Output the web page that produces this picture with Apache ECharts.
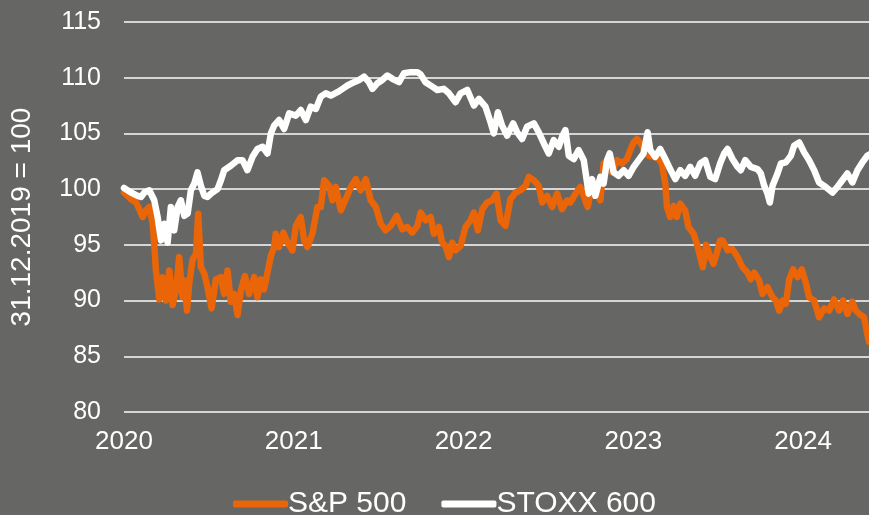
<!DOCTYPE html>
<html>
<head>
<meta charset="utf-8">
<script src="https://cdn.jsdelivr.net/npm/echarts@6/dist/echarts.min.js"></script>
<style>
  html, body { margin: 0; padding: 0; background: #666664; }
  #chart { width: 869px; height: 515px; }
</style>
</head>
<body>
<div id="chart"></div>
<script>
// x values are decimal years (2020.5 = mid 2020), y = index, 31.12.2019 = 100
const sp500 = [
  [2020.000, 99.7], [2020.041, 99.1], [2020.071, 98.8], [2020.090, 98.2], [2020.110, 97.5],
  [2020.129, 98.1], [2020.149, 98.4], [2020.169, 96.9], [2020.178, 95.1], [2020.188, 92.7],
  [2020.208, 90.1], [2020.227, 92.1], [2020.247, 90.0], [2020.267, 92.7], [2020.286, 89.6],
  [2020.306, 90.9], [2020.325, 93.9], [2020.345, 90.3], [2020.355, 91.8], [2020.371, 89.1],
  [2020.384, 91.5], [2020.404, 93.7], [2020.424, 94.2], [2020.437, 97.8], [2020.453, 93.0],
  [2020.473, 92.4], [2020.492, 91.2], [2020.516, 89.3], [2020.541, 91.9], [2020.571, 92.1],
  [2020.590, 90.6], [2020.610, 92.7], [2020.629, 89.9], [2020.649, 90.6], [2020.669, 88.7],
  [2020.688, 90.9], [2020.712, 92.2], [2020.737, 90.6], [2020.767, 92.1], [2020.786, 90.3],
  [2020.806, 91.9], [2020.825, 91.0], [2020.845, 92.5], [2020.865, 94.0],
  [2020.884, 94.8], [2020.894, 96.0], [2020.914, 94.8], [2020.939, 96.1], [2020.963, 95.2],
  [2020.992, 94.5], [2021.012, 96.7], [2021.041, 97.5], [2021.061, 95.4], [2021.080, 94.8],
  [2021.110, 96.0], [2021.139, 98.4], [2021.159, 98.4], [2021.179, 100.8], [2021.208, 100.3],
  [2021.228, 99.0], [2021.247, 100.2], [2021.277, 98.1], [2021.306, 99.1], [2021.336, 100.2],
  [2021.365, 100.9], [2021.394, 99.9], [2021.424, 100.9], [2021.453, 99.0], [2021.483, 98.4],
  [2021.512, 96.9], [2021.541, 96.3], [2021.571, 96.7], [2021.606, 97.6], [2021.639, 96.4],
  [2021.669, 96.6], [2021.698, 96.1], [2021.728, 96.7], [2021.747, 97.9],
  [2021.776, 97.2], [2021.806, 97.5], [2021.825, 96.0], [2021.855, 96.6], [2021.874, 95.2],
  [2021.894, 94.9], [2021.914, 93.9], [2021.933, 95.2], [2021.953, 94.5], [2021.982, 94.9],
  [2022.012, 96.6], [2022.041, 97.2], [2022.061, 97.9], [2022.084, 96.3], [2022.110, 98.2],
  [2022.139, 98.8], [2022.169, 99.0], [2022.194, 99.6], [2022.218, 97.2], [2022.247, 96.7],
  [2022.276, 99.1], [2022.306, 99.7], [2022.335, 99.9], [2022.365, 100.3], [2022.384, 101.1],
  [2022.414, 100.8], [2022.443, 100.3], [2022.463, 98.8], [2022.492, 99.4], [2022.522, 98.4],
  [2022.551, 99.6], [2022.580, 98.2], [2022.610, 99.0], [2022.629, 98.8],
  [2022.659, 99.6], [2022.688, 100.2], [2022.717, 99.0], [2022.731, 98.4], [2022.747, 99.6],
  [2022.776, 100.2], [2022.806, 99.0], [2022.825, 102.3], [2022.845, 102.0], [2022.874, 101.5],
  [2022.904, 102.6], [2022.933, 102.3], [2022.962, 102.7], [2022.982, 103.5], [2023.002, 104.2],
  [2023.021, 104.5], [2023.045, 104.1], [2023.064, 103.5], [2023.090, 103.0], [2023.119, 102.9],
  [2023.149, 102.7], [2023.168, 102.3], [2023.188, 100.5], [2023.198, 98.4], [2023.217, 97.5],
  [2023.237, 98.5], [2023.256, 97.5], [2023.276, 98.7], [2023.305, 98.1], [2023.325, 96.6],
  [2023.355, 96.0], [2023.374, 95.1], [2023.394, 93.9], [2023.409, 93.0], [2023.429, 95.0],
  [2023.453, 93.9], [2023.472, 93.3], [2023.492, 94.3], [2023.511, 95.4],
  [2023.526, 95.4], [2023.555, 94.5], [2023.584, 94.6], [2023.614, 93.9], [2023.643, 93.0],
  [2023.673, 92.5], [2023.692, 91.9], [2023.712, 92.5], [2023.741, 91.8], [2023.761, 90.6],
  [2023.790, 91.2], [2023.820, 90.3], [2023.839, 90.0], [2023.859, 89.1], [2023.879, 90.0],
  [2023.898, 89.7], [2023.918, 91.9], [2023.941, 92.8], [2023.967, 92.1], [2023.992, 92.8],
  [2024.016, 91.6], [2024.035, 90.3], [2024.065, 90.0], [2024.094, 88.5], [2024.124, 89.3],
  [2024.153, 89.1], [2024.182, 90.1], [2024.212, 89.1], [2024.235, 90.0], [2024.261, 88.8],
  [2024.290, 89.9], [2024.310, 89.1], [2024.339, 88.7], [2024.359, 88.5], [2024.378, 87.0],
  [2024.388, 86.3]
];

const stoxx600 = [
  [2020.000, 100.1], [2020.041, 99.7], [2020.080, 99.4], [2020.100, 99.3], [2020.120, 99.7],
  [2020.149, 99.9], [2020.178, 99.0], [2020.198, 97.5], [2020.218, 95.4], [2020.237, 96.9],
  [2020.257, 95.2], [2020.276, 98.4], [2020.296, 96.3], [2020.316, 98.4], [2020.335, 99.0],
  [2020.355, 97.6], [2020.375, 97.8], [2020.394, 99.9], [2020.414, 100.5], [2020.433, 101.5],
  [2020.453, 100.3], [2020.473, 99.4], [2020.492, 99.3], [2020.512, 99.6], [2020.551, 100.0],
  [2020.571, 100.8], [2020.590, 101.7], [2020.629, 102.1], [2020.669, 102.6], [2020.698, 102.6],
  [2020.727, 101.7], [2020.757, 102.9], [2020.786, 103.6], [2020.816, 103.8], [2020.845, 103.2],
  [2020.865, 105.0],
  [2020.884, 105.7], [2020.914, 106.2], [2020.943, 105.4], [2020.973, 106.8], [2021.012, 106.6],
  [2021.041, 107.1], [2021.071, 106.2], [2021.100, 107.4], [2021.130, 107.2], [2021.159, 108.3],
  [2021.188, 108.6], [2021.218, 108.4], [2021.257, 108.7], [2021.287, 109.0], [2021.316, 109.3],
  [2021.355, 109.6], [2021.385, 109.8], [2021.414, 110.1], [2021.443, 109.6], [2021.463, 109.0],
  [2021.492, 109.5], [2021.522, 109.8], [2021.551, 110.2], [2021.581, 109.9], [2021.620, 109.6],
  [2021.649, 110.4], [2021.688, 110.5], [2021.728, 110.5],
  [2021.747, 110.3], [2021.776, 109.6], [2021.816, 109.2], [2021.845, 108.9], [2021.884, 109.0],
  [2021.914, 108.6], [2021.953, 107.8], [2021.982, 108.6], [2022.022, 108.9], [2022.061, 107.5],
  [2022.090, 108.1], [2022.129, 107.4], [2022.159, 106.0], [2022.178, 105.0], [2022.202, 106.9],
  [2022.227, 105.7], [2022.257, 104.8], [2022.292, 105.9], [2022.316, 105.1], [2022.345, 104.5],
  [2022.374, 105.6], [2022.414, 105.9], [2022.443, 105.1], [2022.473, 104.1], [2022.502, 103.2],
  [2022.531, 104.4], [2022.561, 103.8], [2022.580, 104.7], [2022.600, 105.3], [2022.620, 103.0],
  [2022.649, 102.7], [2022.678, 103.5], [2022.708, 102.6], [2022.737, 99.6], [2022.757, 100.9],
  [2022.776, 99.4], [2022.806, 101.1], [2022.825, 100.5], [2022.845, 102.6], [2022.861, 103.2],
  [2022.884, 101.5], [2022.913, 101.2], [2022.943, 101.7], [2022.972, 101.2], [2023.002, 102.0],
  [2023.031, 102.6], [2023.060, 103.2], [2023.084, 105.1], [2023.100, 103.5], [2023.129, 102.9],
  [2023.158, 103.6], [2023.188, 102.7], [2023.217, 101.8], [2023.247, 100.9], [2023.276, 101.7],
  [2023.305, 101.2], [2023.335, 102.0], [2023.364, 101.2], [2023.394, 102.3], [2023.423, 102.6],
  [2023.453, 101.1], [2023.482, 100.9], [2023.511, 102.3],
  [2023.535, 103.2], [2023.555, 103.6], [2023.584, 102.7], [2023.614, 102.0], [2023.633, 101.7],
  [2023.659, 102.6], [2023.692, 102.0], [2023.731, 101.8], [2023.751, 101.4], [2023.771, 100.3],
  [2023.790, 99.6], [2023.804, 98.8], [2023.820, 100.3], [2023.849, 101.4], [2023.869, 102.3],
  [2023.898, 102.4], [2023.928, 103.0], [2023.947, 103.9], [2023.977, 104.2], [2024.006, 103.3],
  [2024.035, 102.6], [2024.065, 101.7], [2024.094, 100.6], [2024.133, 100.2], [2024.173, 99.7],
  [2024.202, 100.2], [2024.231, 100.8], [2024.261, 101.4], [2024.290, 100.6], [2024.320, 101.7],
  [2024.349, 102.4], [2024.378, 103.0], [2024.388, 103.1]
];

const seriesNames = ['S&P 500', 'STOXX 600'];
const yTicks = { min: 80, max: 115, step: 5 };
const xRange = { min: 2020, max: 2024.388 };

const font = "'Liberation Sans Narrow', 'Arial Narrow', 'Liberation Sans', Arial, sans-serif";
const chart = echarts.init(document.getElementById('chart'));

chart.setOption({
  backgroundColor: '#666664',
  animation: false,
  textStyle: { fontFamily: font },
  grid: { left: 123, right: 0, top: 22, bottom: 103 },
  legend: {
    data: [
      { name: seriesNames[0], icon: 'roundRect' },
      { name: seriesNames[1], icon: 'roundRect' }
    ],
    left: 228,
    top: 484,
    itemWidth: 55,
    itemHeight: 7,
    itemGap: 35,
    textStyle: { color: '#ffffff', fontSize: 30, fontFamily: font, padding: [0, 0, 0, -5] }
  },
  xAxis: {
    type: 'value',
    min: xRange.min,
    max: xRange.max,
    interval: 1,
    axisLine: { show: false },
    axisTick: { show: false },
    splitLine: { show: false },
    axisLabel: {
      color: '#ffffff',
      fontSize: 26,
      margin: 17,
      showMaxLabel: false,
      formatter: v => (Number.isInteger(v) ? String(v) : '')
    }
  },
  yAxis: {
    type: 'value',
    min: yTicks.min,
    max: yTicks.max,
    interval: yTicks.step,
    name: '31.12.2019 = 100',
    nameLocation: 'middle',
    nameGap: 88,
    nameTextStyle: { color: '#ffffff', fontSize: 28, padding: [0, 0, 0, 0] },
    axisLine: { show: false },
    axisTick: { show: false },
    axisLabel: { color: '#ffffff', fontSize: 25, margin: 23 },
    splitLine: { lineStyle: { color: '#d6d6d6', width: 2 } }
  },
  series: [
    {
      name: seriesNames[0],
      type: 'line',
      data: sp500,
      symbol: 'none',
      color: '#e96508',
      lineStyle: { width: 6.5, color: '#e96508', cap: 'round', join: 'round' }
    },
    {
      name: seriesNames[1],
      type: 'line',
      data: stoxx600,
      symbol: 'none',
      color: '#ffffff',
      lineStyle: { width: 6.5, color: '#ffffff', cap: 'round', join: 'round' }
    }
  ]
});
</script>
</body>
</html>
